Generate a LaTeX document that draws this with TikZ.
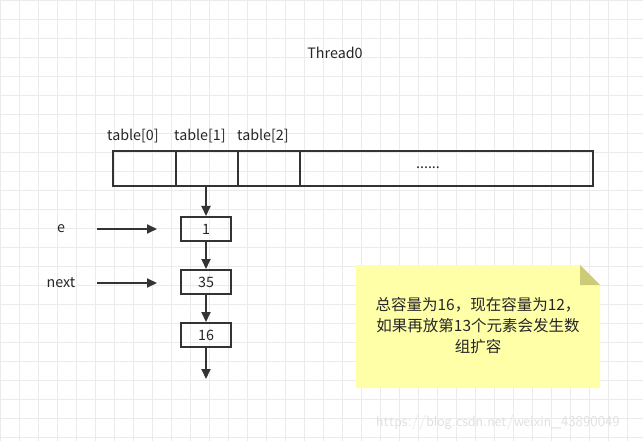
\documentclass[tikz,border=0pt]{standalone}
\usepackage{fontspec}
\setmainfont{Noto Sans CJK SC}
\usetikzlibrary{arrows.meta}
\tikzset{
 lbl/.style={font=\fontsize{14.3}{16}\selectfont, text=black!85},
 item/.style={draw=black!80, line width=2pt, minimum width=50pt, minimum height=24pt, inner sep=0pt, lbl},
 cell/.style={draw=black!80, line width=2pt, inner sep=0pt},
 arr/.style={draw=black!80, line width=2pt, -{Triangle[length=10pt,width=9pt]}},
}
\begin{document}
\begin{tikzpicture}[x=1pt,y=-1pt]
\useasboundingbox (0,0) rectangle (643,441);
\draw[black!8, line width=0.7pt] (0,0) grid[step=19pt] (643,441);
\node[lbl] (t) at (335,53) {Thread0};
\node[lbl] (l0) at (133,136) {table[0]};
\node[lbl] (l1) at (200,136) {table[1]};
\node[lbl] (l2) at (263,136) {table[2]};
\node[cell, minimum width=480pt, minimum height=35pt, anchor=north west] (tab) at (112,150) {};
\node[cell, minimum width=63pt, minimum height=35pt, anchor=north west] (c0) at (112,150) {};
\node[cell, minimum width=62pt, minimum height=35pt, anchor=north west] (c1) at (175,150) {};
\node[cell, minimum width=62pt, minimum height=35pt, anchor=north west] (c2) at (237,150) {};
\node[lbl] (dots) at (428,168) {......};
\node[item] (n1) at (206,229) {1};
\node[item] (n2) at (206,282) {35};
\node[item] (n3) at (206,335) {16};
\coordinate (top) at (206,185);
\coordinate (end) at (206,379);
\draw[arr] (top) -- (n1);
\draw[arr] (n1) -- (n2);
\draw[arr] (n2) -- (n3);
\draw[arr] (n3) -- (end);
\node[lbl] (e) at (61,229) {e};
\node[lbl] (nx) at (61,283) {next};
\coordinate (ea) at (97,229); \coordinate (eb) at (157,229);
\coordinate (na) at (97,283); \coordinate (nb) at (157,283);
\draw[arr] (ea) -- (eb);
\draw[arr] (na) -- (nb);
\fill[fill={rgb,255:red,255;green,255;blue,168}] (356,265) -- (580,265) -- (600,285) -- (600,388) -- (356,388) -- cycle;
\fill[fill={rgb,255:red,204;green,204;blue,119}] (580,265) -- (600,285) -- (580,285) -- cycle;
\node[lbl, align=center, font=\fontsize{15.5}{21}\selectfont] (note) at (478,326) {总容量为16，现在容量为12，\\如果再放第13个元素会发生数\\组扩容};
\node[text=black!12, font=\fontsize{15}{16}\selectfont\sffamily] (wm) at (498,423) {https://blog.csdn.net/weixin\_43890049};
\end{tikzpicture}
\end{document}
